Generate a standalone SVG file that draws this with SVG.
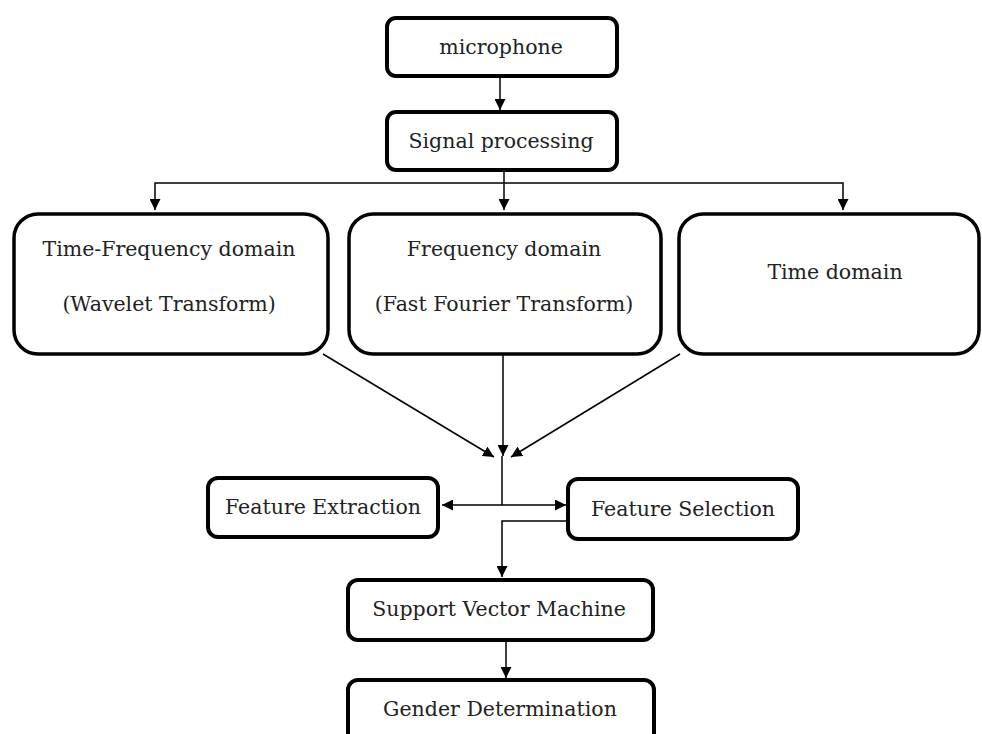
<svg xmlns="http://www.w3.org/2000/svg" width="982" height="734" viewBox="0 0 982 734">
<style>
.box{fill:#fff;stroke:#000;stroke-width:4}
.big{fill:#fff;stroke:#000;stroke-width:3.5}
.t{font-family:"DejaVu Serif","Liberation Serif",serif;font-size:20.5px;fill:#222;text-anchor:middle}
.c{fill:none;stroke:#000;stroke-width:1.5}
</style>
<defs>
<marker id="ah" viewBox="0 0 10 10" refX="10" refY="5" markerWidth="11" markerHeight="11" markerUnits="userSpaceOnUse" orient="auto-start-reverse">
<path d="M0,0 L10,5 L0,10 z" fill="#000"/>
</marker>
</defs>
<rect width="982" height="734" fill="#fff"/>
<g id="connectors">
<line class="c" x1="500" y1="77" x2="500" y2="110" marker-end="url(#ah)"/>
<line class="c" x1="504" y1="170" x2="504" y2="210" marker-end="url(#ah)"/>
<polyline class="c" points="155,210 155,183 843,183 843,210" marker-start="url(#ah)" marker-end="url(#ah)"/>
<line class="c" x1="323" y1="354" x2="494" y2="457" marker-end="url(#ah)"/>
<line class="c" x1="503" y1="355" x2="503" y2="456" marker-end="url(#ah)"/>
<line class="c" x1="680" y1="354" x2="511" y2="457" marker-end="url(#ah)"/>
<line class="c" x1="502" y1="456" x2="502" y2="505"/>
<line class="c" x1="442" y1="505" x2="566" y2="505" marker-start="url(#ah)" marker-end="url(#ah)"/>
<polyline class="c" points="566,521 502,521 502,577" marker-end="url(#ah)"/>
<line class="c" x1="506" y1="640" x2="506" y2="678" marker-end="url(#ah)"/>
</g>
<g id="microphone">
<rect class="box" x="387" y="18" width="230" height="58" rx="9"/>
<text class="t" x="501" y="54">microphone</text>
</g>
<g id="signal">
<rect class="box" x="387" y="112" width="230" height="58" rx="9"/>
<text class="t" x="501" y="148">Signal processing</text>
</g>
<g id="timefreq">
<rect class="big" x="14" y="214" width="314" height="140" rx="24"/>
<text class="t" x="169" y="256">Time-Frequency domain</text>
<text class="t" x="169" y="311">(Wavelet Transform)</text>
</g>
<g id="freq">
<rect class="big" x="349" y="214" width="312" height="140" rx="24"/>
<text class="t" x="504" y="256">Frequency domain</text>
<text class="t" x="504" y="311">(Fast Fourier Transform)</text>
</g>
<g id="time">
<rect class="big" x="679" y="214" width="300" height="140" rx="24"/>
<text class="t" x="835" y="279">Time domain</text>
</g>
<g id="extraction">
<rect class="box" x="208" y="478" width="230" height="59" rx="10"/>
<text class="t" x="323" y="514">Feature Extraction</text>
</g>
<g id="selection">
<rect class="box" x="568" y="479" width="230" height="60" rx="10"/>
<text class="t" x="683" y="516">Feature Selection</text>
</g>
<g id="svm">
<rect class="box" x="348" y="580" width="305" height="60" rx="10"/>
<text class="t" x="499" y="616">Support Vector Machine</text>
</g>
<g id="gender">
<rect class="box" x="348" y="680" width="306" height="70" rx="10"/>
<text class="t" x="500" y="716">Gender Determination</text>
</g>
</svg>
